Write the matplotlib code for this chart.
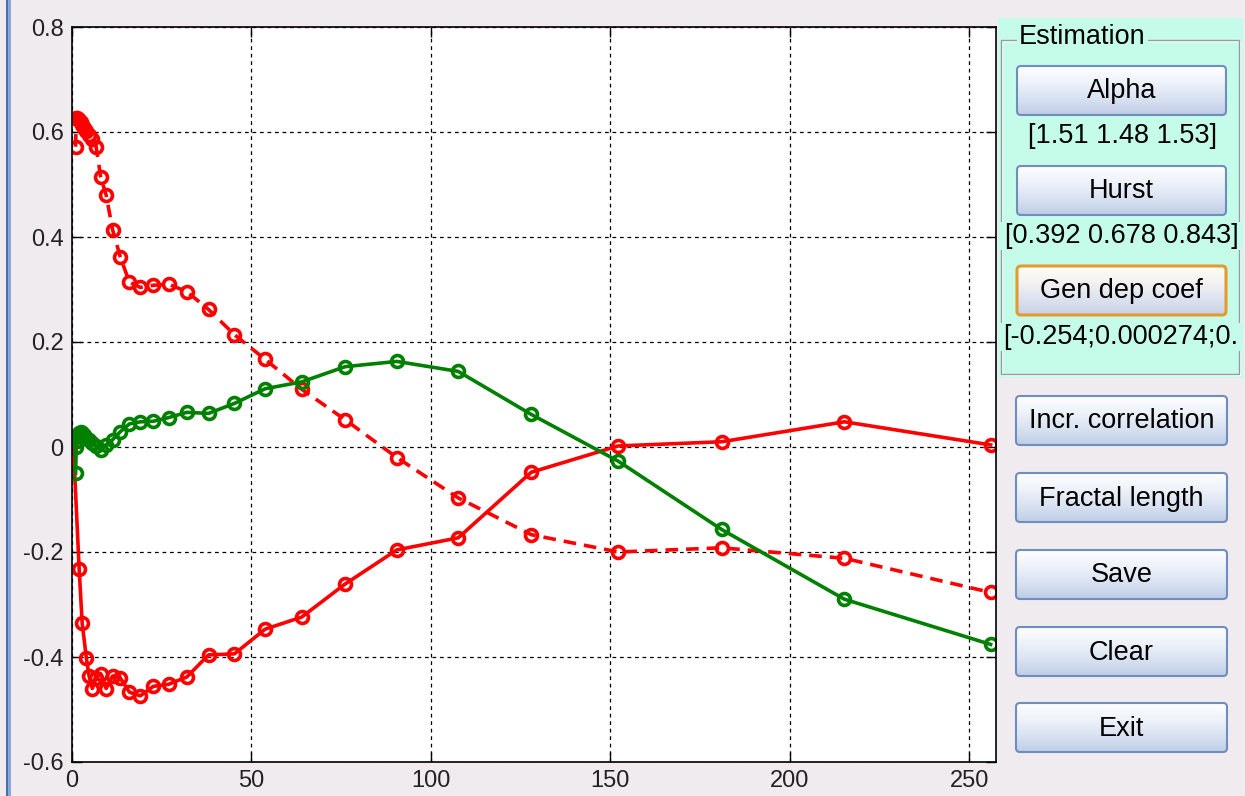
import numpy as np
import matplotlib
matplotlib.use("Agg")
import matplotlib.pyplot as plt
from matplotlib.patches import Rectangle, FancyBboxPatch
from matplotlib.colors import LinearSegmentedColormap

plt.rcParams['font.family'] = ['Liberation Sans', 'DejaVu Sans']

# lags (dyadic-like scale) used by the dashed red and the green curve
lags = [1, 1.19, 1.41, 1.68, 2, 2.38, 2.83, 3.36, 4, 4.76, 5.66, 6.73, 8, 9.51,
        11.31, 13.45, 16, 19.03, 22.63, 26.91, 32, 38.05, 45.25, 53.82, 64,
        76.11, 90.51, 107.63, 128, 152.22, 181.02, 215.27, 256]

red_dashed = [0.572, 0.626, 0.627, 0.625, 0.622, 0.619, 0.614, 0.608, 0.601,
              0.594, 0.586, 0.572, 0.514, 0.480, 0.414, 0.362, 0.314, 0.304,
              0.308, 0.310, 0.296, 0.262, 0.214, 0.167, 0.110, 0.052, -0.020,
              -0.097, -0.167, -0.200, -0.192, -0.212, -0.277]

green_vals = [-0.050, 0.000, 0.012, 0.022, 0.026, 0.028, 0.026, 0.022, 0.018,
              0.013, 0.008, 0.002, -0.006, 0.004, 0.014, 0.029, 0.044, 0.048,
              0.049, 0.056, 0.066, 0.064, 0.083, 0.111, 0.124, 0.153, 0.163,
              0.144, 0.062, -0.027, -0.157, -0.290, -0.376]

# solid red curve
solid_lags = [0.3, 2, 2.83, 4, 4.76, 5.66, 6.73, 8, 9.51, 11.31, 13.45, 16,
              19.03, 22.63, 26.91, 32, 38.05, 45.25, 53.82, 64, 76.11, 90.51,
              107.63, 128, 152.22, 181.02, 215.27, 256]
red_solid = [0.015, -0.233, -0.335, -0.402, -0.436, -0.460, -0.440, -0.432,
             -0.460, -0.436, -0.440, -0.467, -0.474, -0.456, -0.452, -0.438,
             -0.396, -0.394, -0.347, -0.324, -0.261, -0.196, -0.173, -0.048,
             0.002, 0.010, 0.048, 0.004]

xticks = [0, 50, 100, 150, 200, 250]
yticks = [-0.6, -0.4, -0.2, 0, 0.2, 0.4, 0.6, 0.8]
ytick_labels = ['-0.6', '-0.4', '-0.2', '0', '0.2', '0.4', '0.6', '0.8']

estimation_buttons = ['Alpha', 'Hurst', 'Gen dep coef']
estimation_results = ['[1.51 1.48 1.53]', '[0.392 0.678 0.843]',
                      '[-0.254;0.000274;0.']
other_buttons = ['Incr. correlation', 'Fractal length', 'Save', 'Clear', 'Exit']

W, H = 1245, 796
BG = '#EFEBEF'
MINT = '#C4FCE9'

fig = plt.figure(figsize=(W / 100, H / 100), dpi=100, facecolor=BG)

# ---- main plot ----
ax = fig.add_axes([72 / W, (H - 762) / H, 924 / W, 735 / H])
ax.set_facecolor('white')
style = dict(linewidth=2.6, marker='o', markersize=8.6,
             markerfacecolor='none', markeredgewidth=2.6)
ax.plot(lags, red_dashed, color='#FF0000', linestyle='--', dashes=(3.5, 2.2),
        **style)
ax.plot(solid_lags, red_solid, color='#FF0000', **style)
ax.plot(lags, green_vals, color='#008000', **style)

ax.set_xlim(0, 257.5)
ax.set_ylim(-0.6, 0.8)
ax.set_xticks(xticks)
ax.set_xticklabels([str(t) for t in xticks])
ax.set_yticks(yticks)
ax.set_yticklabels(ytick_labels)
ax.tick_params(direction='in', length=7, width=1, top=True, right=True,
               labelsize=17, colors='black', pad=6)
ax.tick_params(axis='both', labelcolor='#222222')
ax.grid(True, color='black', linestyle=(0, (3, 3)), linewidth=0.9)
ax.set_axisbelow(True)
for sp in ax.spines.values():
    sp.set_linewidth(1.2)
    sp.set_color('black')

# ---- GUI overlay (pixel coordinates) ----
ui = fig.add_axes([0, 0, 1, 1], zorder=5)
ui.patch.set_alpha(0)
ui.axis('off')

# window edge on the left
ui.add_patch(Rectangle((6, 0), 2, H, fc='#4A6DB2', ec='none'))
ui.add_patch(Rectangle((8, 0), 3, H, fc='#8DA6D8', ec='none'))

# estimation panel
panel = Rectangle((998, 18), 245, 360, fc=MINT, ec='none')
ui.add_patch(panel)
ui.add_patch(Rectangle((1002, 41), 238, 334, fill=False, ec='white', lw=1))
ui.add_patch(Rectangle((1001, 40), 238, 334, fill=False, ec='#9A9A9A', lw=1))
ui.text(1019, 37, 'Estimation', ha='left', va='center', fontsize=19.5,
        bbox=dict(fc=MINT, ec='none', pad=1.5))

grad = np.linspace(0, 1, 60).reshape(-1, 1)
btn_cmap = LinearSegmentedColormap.from_list(
    'btn', ['#FDFEFF', '#EEF2FA', '#D9E2F1', '#BFCDE6'])
hot_cmap = LinearSegmentedColormap.from_list(
    'hot', ['#FFFDF6', '#F4F2F2', '#DDE3EF', '#C9D2E6'])


def draw_button(x0, y0, x1, y1, label, hot=False):
    box = FancyBboxPatch((x0, y0), x1 - x0, y1 - y0,
                         boxstyle='round,pad=0,rounding_size=4',
                         fc='none', ec='#E59A2E' if hot else '#6F8DBF',
                         lw=2.2 if hot else 1.5, zorder=3)
    ui.add_patch(box)
    im = ui.imshow(grad, cmap=hot_cmap if hot else btn_cmap,
                   extent=(x0, x1, y1, y0), aspect='auto', zorder=2,
                   interpolation='bilinear')
    im.set_clip_path(box)
    ui.text((x0 + x1) / 2, (y0 + y1) / 2 + 1, label, ha='center',
            va='center', fontsize=19.5, zorder=4)


est_tops = [66, 166, 266]
result_y = [136, 236, 337]
for i, (label, res) in enumerate(zip(estimation_buttons, estimation_results)):
    draw_button(1017, est_tops[i], 1226, est_tops[i] + 49, label,
                hot=(label == 'Gen dep coef'))
    if i == 2:
        ui.add_patch(Rectangle((999, result_y[i] - 14), 244, 28, fc=MINT,
                               ec='none', zorder=2))
        t = ui.text(1003, result_y[i], res, ha='left', va='center',
                    fontsize=19.5, zorder=4)
        t.set_clip_path(panel)
    else:
        if i == 1:
            ui.add_patch(Rectangle((999, result_y[i] - 14), 244, 28, fc=MINT,
                                   ec='none', zorder=2))
        ui.text(1122, result_y[i], res, ha='center', va='center',
                fontsize=19.5, zorder=4)

other_tops = [396, 473, 550, 627, 703]
for top, label in zip(other_tops, other_buttons):
    draw_button(1016, top, 1227, top + 49, label)

ui.set_xlim(0, W)
ui.set_ylim(H, 0)

fig.savefig('out.png', dpi=100, facecolor=BG)
